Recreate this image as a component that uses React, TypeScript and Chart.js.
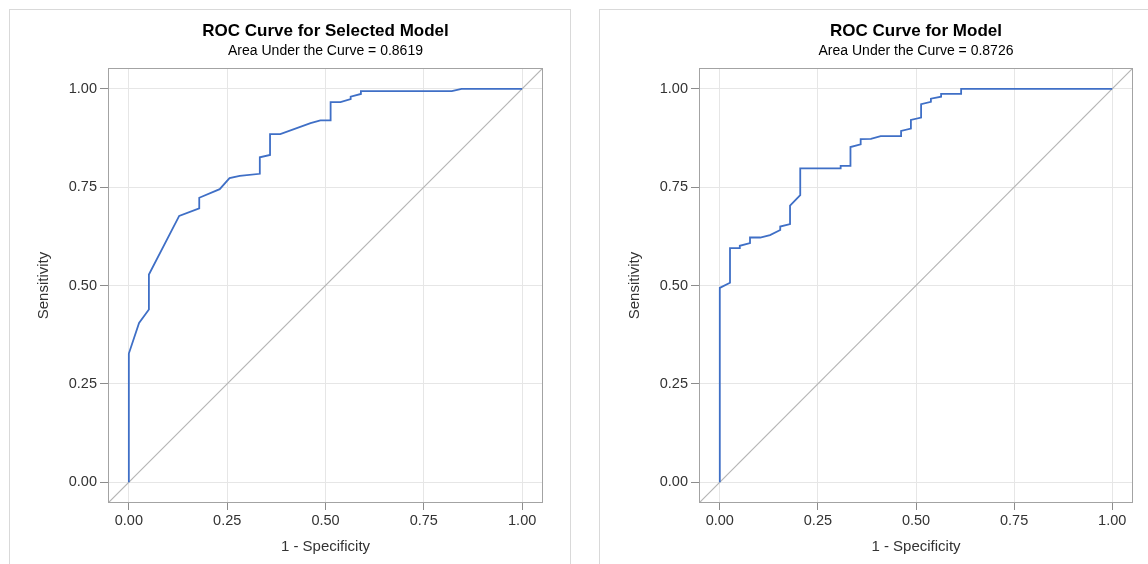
import React, { useEffect, useRef } from 'react';
import { Chart, registerables } from 'chart.js';

Chart.register(...registerables);

// ---- data ----
const AXIS_MIN = -0.053;
const AXIS_MAX = 1.053;
const TICK_VALUES = [0, 0.25, 0.5, 0.75, 1];
const TICK_LABELS = ['0.00', '0.25', '0.50', '0.75', '1.00'];
const X_TITLE = '1 - Specificity';
const Y_TITLE = 'Sensitivity';

const LEFT_TITLE = 'ROC Curve for Selected Model';
const LEFT_SUBTITLE = 'Area Under the Curve = 0.8619';
const LEFT_FPR = [0, 0, 0.026, 0.051, 0.051, 0.128, 0.179, 0.179, 0.231, 0.256, 0.282, 0.333, 0.333, 0.359, 0.359, 0.385, 0.462, 0.487, 0.513, 0.513, 0.538, 0.564, 0.564, 0.590, 0.590, 0.821, 0.846, 1.0];
const LEFT_TPR = [0, 0.327, 0.405, 0.439, 0.528, 0.677, 0.696, 0.723, 0.745, 0.773, 0.779, 0.784, 0.826, 0.832, 0.885, 0.885, 0.913, 0.920, 0.920, 0.966, 0.966, 0.974, 0.980, 0.987, 0.994, 0.994, 1.0, 1.0];

const RIGHT_TITLE = 'ROC Curve for Model';
const RIGHT_SUBTITLE = 'Area Under the Curve = 0.8726';
const RIGHT_FPR = [0, 0, 0.026, 0.026, 0.051, 0.051, 0.077, 0.077, 0.103, 0.128, 0.154, 0.154, 0.179, 0.179, 0.205, 0.205, 0.308, 0.308, 0.333, 0.333, 0.359, 0.359, 0.385, 0.410, 0.462, 0.462, 0.487, 0.487, 0.513, 0.513, 0.538, 0.538, 0.564, 0.564, 0.615, 0.615, 1.0];
const RIGHT_TPR = [0, 0.494, 0.507, 0.595, 0.595, 0.601, 0.608, 0.622, 0.622, 0.628, 0.641, 0.650, 0.656, 0.703, 0.730, 0.798, 0.798, 0.804, 0.804, 0.852, 0.859, 0.872, 0.873, 0.880, 0.880, 0.893, 0.899, 0.921, 0.927, 0.961, 0.967, 0.975, 0.980, 0.987, 0.987, 1.0, 1.0];

const FONT_FAMILY = '"Liberation Sans", Arial, Helvetica, sans-serif';

const framePlugin = {
  id: 'frame',
  afterDatasetsDraw(chart: any) {
    const { ctx, chartArea: a } = chart;
    ctx.save();
    ctx.strokeStyle = '#a3a3a3';
    ctx.lineWidth = 1;
    ctx.strokeRect(a.left + 0.5, a.top + 0.5, a.right - a.left - 1, a.bottom - a.top - 1);
    ctx.restore();
  },
};

type RocProps = {
  title: string;
  subtitle: string;
  fpr: number[];
  tpr: number[];
  width: number;
  height: number;
  rightPad: number;
};

function RocChart({ title, subtitle, fpr, tpr, width, height, rightPad }: RocProps) {
  const ref = useRef<HTMLCanvasElement | null>(null);
  useEffect(() => {
    if (!ref.current) return;
    const tickFont = { family: FONT_FAMILY, size: 14.5 };
    const axisTitleFont = { family: FONT_FAMILY, size: 15 };
    const chart = new Chart(ref.current, {
      type: 'scatter',
      data: {
        datasets: [
          {
            label: 'ROC',
            data: fpr.map((x, i) => ({ x, y: tpr[i] })),
            showLine: true,
            borderColor: '#3f6fc6',
            borderWidth: 1.8,
            pointRadius: 0,
            order: 0,
          },
          {
            label: 'Chance',
            data: [
              { x: AXIS_MIN, y: AXIS_MIN },
              { x: AXIS_MAX, y: AXIS_MAX },
            ],
            showLine: true,
            borderColor: '#b5b5b5',
            borderWidth: 1.2,
            pointRadius: 0,
            order: 1,
          },
        ],
      },
      options: {
        animation: false,
        responsive: false,
        layout: { padding: { left: 0, right: rightPad, top: 0, bottom: 0 } },
        plugins: {
          legend: { display: false },
          tooltip: { enabled: false },
          title: {
            display: true,
            text: title,
            fullSize: false,
            color: '#000',
            font: { family: FONT_FAMILY, size: 17, weight: 'bold' },
            padding: { top: 11, bottom: 1 },
          },
          subtitle: {
            display: true,
            text: subtitle,
            fullSize: false,
            color: '#000',
            font: { family: FONT_FAMILY, size: 14 },
            padding: { top: 0, bottom: 8.8 },
          },
        },
        scales: {
          x: {
            type: 'linear',
            min: AXIS_MIN,
            max: AXIS_MAX,
            afterBuildTicks: (s: any) => {
              s.ticks = TICK_VALUES.map((v) => ({ value: v }));
            },
            afterFit: (s: any) => {
              s.height = 61;
            },
            ticks: {
              callback: (_v: any, i: number) => TICK_LABELS[i],
              color: '#333',
              font: tickFont,
              padding: 2,
              maxRotation: 0,
              autoSkip: false,
            },
            grid: { color: '#e6e6e6', tickColor: '#8c8c8c', tickLength: 7, lineWidth: 1 },
            border: { display: false },
            title: {
              display: true,
              text: X_TITLE,
              color: '#333',
              font: axisTitleFont,
              padding: { top: 0, bottom: 8 },
            },
          },
          y: {
            type: 'linear',
            min: AXIS_MIN,
            max: AXIS_MAX,
            afterBuildTicks: (s: any) => {
              s.ticks = TICK_VALUES.map((v) => ({ value: v }));
            },
            afterFit: (s: any) => {
              s.width = 98;
            },
            ticks: {
              callback: (_v: any, i: number) => TICK_LABELS[i],
              color: '#333',
              font: tickFont,
              padding: 3,
              autoSkip: false,
            },
            grid: { color: '#e6e6e6', tickColor: '#8c8c8c', tickLength: 8, lineWidth: 1 },
            border: { display: false },
            title: {
              display: true,
              text: Y_TITLE,
              color: '#333',
              font: axisTitleFont,
              padding: { top: 25, bottom: 0 },
            },
          },
        },
      },
      plugins: [framePlugin],
    } as any);
    return () => chart.destroy();
  }, [title, subtitle, fpr, tpr, width, height, rightPad]);
  return <canvas ref={ref} width={width} height={height} style={{ display: 'block', width, height }} />;
}

export default function App() {
  return (
    <div
      style={{
        position: 'fixed',
        left: 0,
        top: 0,
        width: 1148,
        height: 564,
        overflow: 'hidden',
        background: '#fff',
      }}
    >
      <div
        style={{
          position: 'absolute',
          left: 9,
          top: 9,
          width: 560,
          height: 600,
          border: '1px solid #d9d9d9',
        }}
      />
      <div
        style={{
          position: 'absolute',
          left: 599,
          top: 9,
          width: 600,
          height: 600,
          border: '1px solid #d9d9d9',
        }}
      />
      <div style={{ position: 'absolute', left: 10, top: 10 }}>
        <RocChart title={LEFT_TITLE} subtitle={LEFT_SUBTITLE} fpr={LEFT_FPR} tpr={LEFT_TPR} width={560} height={554} rightPad={27} />
      </div>
      <div style={{ position: 'absolute', left: 601, top: 10 }}>
        <RocChart title={RIGHT_TITLE} subtitle={RIGHT_SUBTITLE} fpr={RIGHT_FPR} tpr={RIGHT_TPR} width={547} height={554} rightPad={15} />
      </div>
    </div>
  );
}
